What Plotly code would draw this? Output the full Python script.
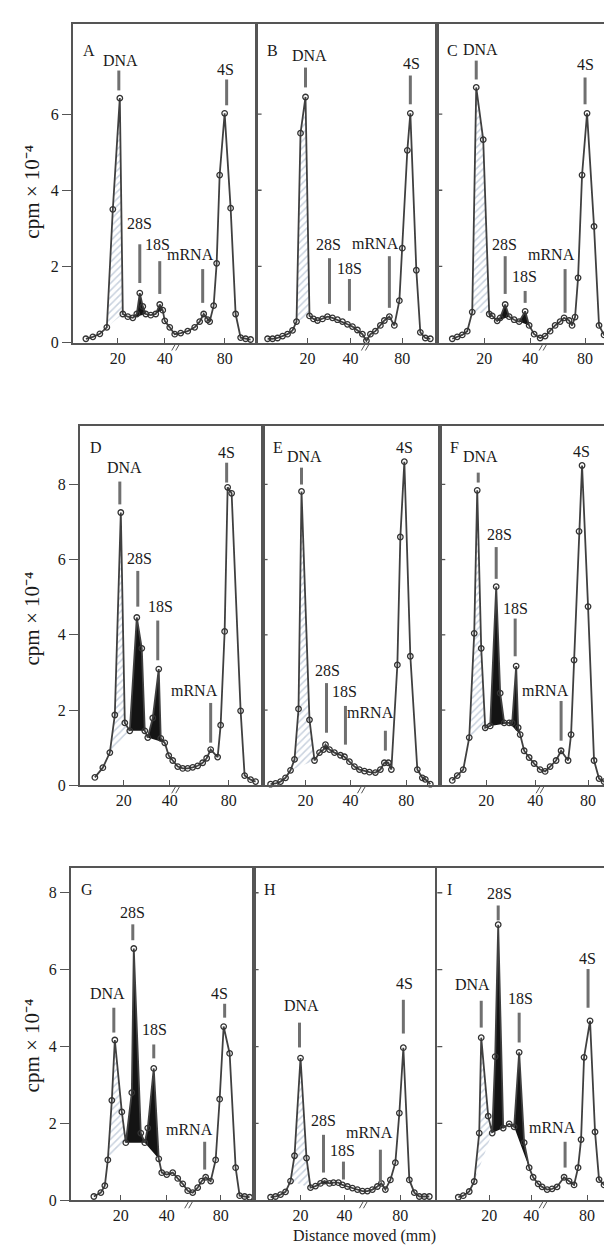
import plotly.graph_objects as go

W, H = 612, 1247
SERIF = "Liberation Serif"
LINE_COLOR = "#404040"
FRAME_COLOR = "#555555"
HATCH_COLOR = "#93a5be"
PEAK_BLACK = "#141414"

# positions along the gel (px from panel's left edge) and cpm x 10^-4
A_X = [13, 20, 27, 34, 40, 47, 50, 55, 60, 64, 67, 70, 73, 78, 83, 87, 90, 92, 97, 102, 108, 115,
       122, 127, 131, 135, 137, 141, 144, 147, 152, 158, 163, 168, 173, 178]
A_Y = [0.1, 0.15, 0.23, 0.4, 3.5, 6.42, 0.75, 0.68, 0.65, 0.75, 1.3, 0.95, 0.75, 0.72, 0.75, 1.0, 0.85,
       0.57, 0.4, 0.22, 0.25, 0.3, 0.4, 0.55, 0.75, 0.6, 0.55, 0.97, 2.08, 4.4, 6.02, 3.53, 0.75, 0.13,
       0.1, 0.08]

B_X = [11, 16, 21, 26, 31, 36, 40, 44, 49, 53, 57, 61, 66, 71, 76, 81, 86, 91, 96, 101, 106, 110,
       114, 119, 124, 128, 133, 138, 143, 146, 151, 154, 160, 164, 169, 174]
B_Y = [0.1, 0.1, 0.12, 0.17, 0.22, 0.32, 0.55, 5.5, 6.45, 0.7, 0.62, 0.58, 0.62, 0.68, 0.65, 0.6, 0.55,
       0.48, 0.42, 0.33, 0.22, 0.05, 0.22, 0.3, 0.45, 0.58, 0.68, 0.45, 1.1, 2.48, 5.05, 6.02, 1.9, 0.27,
       0.12, 0.1]

C_X = [15, 20, 25, 30, 35, 39, 46, 52, 55, 60, 63, 68, 72, 77, 82, 88, 92, 97, 103, 108, 113, 118,
       123, 127, 132, 135, 138, 141, 145, 150, 157, 162, 167, 172, 177]
C_Y = [0.1, 0.15, 0.2, 0.3, 0.8, 6.7, 5.33, 0.75, 0.7, 0.57, 0.65, 1.0, 0.68, 0.6, 0.55, 0.82, 0.45,
       0.22, 0.12, 0.17, 0.3, 0.45, 0.55, 0.65, 0.58, 0.45, 0.67, 1.7, 4.4, 6.02, 3.05, 0.45, 0.2, 0.1,
       0.08]

D_X = [15, 23, 30, 35, 41, 45, 50, 57, 62, 65, 68, 73, 79, 81, 85, 89, 93, 98, 103, 108, 113, 118,
       123, 127, 131, 138, 141, 145, 148, 152, 161, 165, 171, 176]
D_Y = [0.21, 0.47, 0.87, 1.87, 7.25, 1.66, 1.45, 4.46, 3.64, 1.45, 1.27, 1.79, 3.09, 1.25, 1.13, 0.79,
       0.66, 0.5, 0.45, 0.45, 0.48, 0.52, 0.6, 0.72, 0.95, 0.75, 1.6, 4.09, 7.92, 7.76, 1.98, 0.26, 0.15,
       0.1]

E_X = [8, 13, 18, 23, 28, 32, 36, 39, 47, 52, 57, 61, 63, 67, 72, 78, 82, 87, 92, 97, 102, 107, 113,
       118, 122, 126, 129, 135, 138, 142, 148, 155, 160, 163, 168]
E_Y = [0.03, 0.05, 0.1, 0.2, 0.4, 0.69, 2.03, 7.81, 1.74, 0.66, 0.87, 0.95, 1.08, 0.95, 0.87, 0.8, 0.76,
       0.63, 0.5, 0.42, 0.38, 0.35, 0.34, 0.42, 0.6, 0.6, 0.42, 3.2, 6.6, 8.6, 3.43, 0.42, 0.2, 0.16,
       0.03]

F_X = [12, 17, 23, 29, 34, 37, 41, 45, 50, 56, 60, 64, 69, 72, 76, 78, 80, 84, 89, 94, 100, 105, 110,
       116, 121, 128, 131, 134, 139, 142, 148, 154, 159, 164, 169]
F_Y = [0.13, 0.26, 0.42, 1.27, 4.04, 7.84, 3.64, 1.53, 1.58, 5.28, 2.45, 1.66, 1.66, 1.66, 3.17, 1.53,
       1.35, 0.92, 0.74, 0.58, 0.42, 0.37, 0.5, 0.66, 0.92, 0.66, 1.35, 3.33, 6.75, 8.5, 4.75, 0.66,
       0.18, 0.1, 0.05]

G_X = [23, 30, 34, 37, 41, 44, 51, 55, 61, 63, 70, 74, 77, 83, 88, 91, 96, 102, 107, 112, 117, 122,
       127, 131, 135, 140, 145, 149, 153, 159, 165, 169, 174, 179]
G_Y = [0.1, 0.2, 0.38, 1.05, 2.6, 4.17, 2.3, 1.5, 2.8, 6.55, 1.75, 1.5, 1.88, 3.43, 1.08, 0.72, 0.67,
       0.72, 0.57, 0.43, 0.25, 0.2, 0.33, 0.5, 0.6, 0.5, 1.05, 2.63, 4.52, 3.82, 0.85, 0.12, 0.1, 0.08]

H_X = [17, 22, 27, 32, 37, 41, 47, 53, 57, 62, 67, 71, 76, 80, 85, 89, 94, 99, 104, 109, 114, 119,
       124, 128, 132, 137, 142, 146, 150, 156, 161, 166, 171, 176]
H_Y = [0.08, 0.1, 0.15, 0.22, 0.5, 1.16, 3.7, 1.1, 0.33, 0.37, 0.44, 0.5, 0.44, 0.46, 0.46, 0.4, 0.36,
       0.32, 0.28, 0.24, 0.24, 0.28, 0.36, 0.44, 0.28, 0.53, 0.98, 2.27, 3.97, 0.53, 0.2, 0.1, 0.1, 0.1]

I_X = [21, 26, 32, 37, 42, 44, 51, 55, 58, 61, 66, 72, 77, 82, 87, 92, 96, 101, 105, 110, 115, 120,
       127, 132, 137, 141, 144, 147, 153, 158, 162, 167, 172, 177]
I_Y = [0.08, 0.12, 0.23, 0.49, 1.75, 4.23, 2.19, 1.75, 3.74, 7.17, 1.88, 1.99, 1.91, 3.85, 1.5, 0.85,
       0.6, 0.43, 0.35, 0.28, 0.3, 0.35, 0.6, 0.5, 0.4, 0.85, 1.58, 3.72, 4.67, 1.78, 0.54, 0.4, 0.3, 0.1]

X_TICK_TEXT = ["20", "40", "80"]
Y_LABEL = "cpm × 10⁻⁴"
X_LABEL = "Distance moved (mm)"

# rows: top px, bottom px, y max, y ticks
ROWS = [
    (16, 337, 8.37, [0, 2, 4, 6]),
    (421, 783, 9.55, [0, 2, 4, 6, 8]),
    (866, 1201, 8.65, [0, 2, 4, 6, 8]),
]

# name, x, y, row, left px, right px, tick positions, hatch span, black spans, break px
PANELS = [
    ("A", A_X, A_Y, 0, 65, 248, [45, 92, 152], (3, 6), [(8, 12), (13, 16)], 167),
    ("B", B_X, B_Y, 0, 249, 430, [51, 94, 146], (6, 9), [], 357),
    ("C", C_X, C_Y, 0, 430, 611, [47, 93, 148], (4, 7), [(9, 12), (14, 16)], 535),
    ("D", D_X, D_Y, 1, 72, 255, [44, 90, 149], (2, 6), [(6, 9), (10, 14)], 167),
    ("E", E_X, E_Y, 1, 255, 433, [43, 88, 144], (4, 9), [(11, 13)], 353),
    ("F", F_X, F_Y, 1, 433, 611, [46, 95, 148], (3, 7), [(8, 12), (12, 16)], 532),
    ("G", G_X, G_Y, 2, 63, 246, [50, 96, 150], (3, 7), [(7, 11), (11, 14)], 180),
    ("H", H_X, H_Y, 2, 246, 428, [47, 91, 147], (4, 8), [(10, 12)], 355),
    ("I", I_X, I_Y, 2, 430, 611, [52, 94, 150], (3, 7), [(7, 10), (12, 15)], 535),
]

# peak labels: text, text centre (px), bar x, bar top, bar bottom (px)
LABELS = {
    "A": [("DNA", 113, 53, 111, 63, 83), ("4S", 218, 62, 219, 72, 98), ("28S", 132, 217, 132, 238, 277),
          ("18S", 150, 238, 152, 255, 288), ("mRNA", 183, 248, 195, 263, 297)],
    "B": [("DNA", 302, 48, 298, 60, 80), ("4S", 404, 56, 403, 68, 97), ("28S", 321, 238, 322, 252, 298),
          ("18S", 342, 262, 342, 273, 305), ("mRNA", 368, 237, 382, 250, 302)],
    "C": [("DNA", 473, 42, 469, 53, 72), ("4S", 578, 57, 578, 70, 97), ("28S", 497, 238, 498, 250, 288),
          ("18S", 517, 270, 518, 285, 297), ("mRNA", 544, 248, 558, 263, 307)],
    "D": [("DNA", 117, 463, 112, 477, 500), ("4S", 219, 448, 219, 458, 478), ("28S", 132, 555, 130, 567, 603),
          ("18S", 153, 603, 150, 617, 657), ("mRNA", 187, 687, 203, 700, 740)],
    "E": [("DNA", 297, 452, 294, 463, 480), ("4S", 397, 443, None, 0, 0), ("28S", 320, 667, 319, 680, 730),
          ("18S", 337, 688, 338, 703, 742), ("mRNA", 363, 710, 378, 728, 748)],
    "F": [("DNA", 473, 452, 471, 468, 478), ("4S", 574, 447, None, 0, 0), ("28S", 492, 530, 489, 543, 575),
          ("18S", 508, 605, 508, 615, 653), ("mRNA", 538, 687, 554, 698, 738)],
    "G": [("DNA", 100, 993, 106, 1007, 1032), ("28S", 125, 911, 125, 923, 939), ("18S", 147, 1029, 146, 1044, 1058),
          ("mRNA", 182, 1130, 197, 1142, 1170), ("4S", 212, 993, 217, 1003, 1017)],
    "H": [("DNA", 294, 1005, 292, 1022, 1047), ("4S", 397, 983, 396, 999, 1033), ("28S", 316, 1121, 316, 1135, 1173),
          ("18S", 335, 1151, 336, 1162, 1180), ("mRNA", 362, 1133, 373, 1150, 1183)],
    "I": [("DNA", 465, 984, 474, 1000, 1027), ("28S", 492, 892, 491, 904, 919), ("18S", 513, 998, 512, 1012, 1042),
          ("4S", 580, 957, 581, 968, 1007), ("mRNA", 545, 1128, 558, 1142, 1168)],
}


def fx(px):
    return px / W


def fy(py):
    return 1 - py / H


fig = go.Figure()
annotations = []
shapes = []
layout_axes = {}

for i, (name, xs, ys, row, left, right, ticks, hatch, blacks, brk) in enumerate(PANELS):
    n = "" if i == 0 else str(i + 1)
    top, bottom, ymax, yticks = ROWS[row]
    first_col = left < 100

    # hatched DNA region (closed back along a straight baseline)
    h0, h1 = hatch
    fig.add_trace(go.Scatter(
        x=xs[h0:h1 + 1], y=ys[h0:h1 + 1], xaxis="x" + n, yaxis="y" + n,
        mode="none", fill="toself", fillcolor="rgba(0,0,0,0)",
        fillpattern=dict(shape="/", fgcolor=HATCH_COLOR, bgcolor="rgba(0,0,0,0)",
                         size=5, solidity=0.3),
        hoverinfo="skip", showlegend=False,
    ))
    # rRNA peaks in black
    for b0, b1 in blacks:
        fig.add_trace(go.Scatter(
            x=xs[b0:b1 + 1], y=ys[b0:b1 + 1], xaxis="x" + n, yaxis="y" + n,
            mode="none", fill="toself", fillcolor=PEAK_BLACK,
            hoverinfo="skip", showlegend=False,
        ))
    fig.add_trace(go.Scatter(
        x=xs, y=ys, xaxis="x" + n, yaxis="y" + n,
        mode="lines+markers", cliponaxis=False,
        line=dict(color=LINE_COLOR, width=1.8),
        marker=dict(symbol="circle-open", size=5.5, color="#333333", line=dict(width=1.3)),
        showlegend=False,
    ))

    layout_axes["xaxis" + n] = dict(
        domain=[fx(left), fx(right)], range=[0, right - left],
        anchor="y" + n, showgrid=False, zeroline=False,
        showline=True, mirror=True, linecolor=FRAME_COLOR, linewidth=1.7,
        tickvals=ticks, ticktext=X_TICK_TEXT, ticks="inside", ticklen=5,
        tickcolor=FRAME_COLOR, tickwidth=1.3,
        tickfont=dict(family=SERIF, size=16, color="#1a1a1a"),
    )
    yaxis = dict(
        domain=[fy(bottom), fy(top)], range=[0, ymax],
        anchor="x" + n, showgrid=False, zeroline=False,
        showline=True, mirror=True, linecolor=FRAME_COLOR, linewidth=1.7,
    )
    if first_col:
        yaxis.update(
            tickvals=yticks, ticks="outside", ticklen=9,
            tickcolor=FRAME_COLOR, tickwidth=1.3,
            tickfont=dict(family=SERIF, size=16, color="#1a1a1a"),
        )
    else:
        yaxis.update(showticklabels=False, ticks="")
        # short inward ticks on the shared left frame
        for v in yticks[1:]:
            shapes.append(dict(
                type="line", xref="paper", yref="y" + n,
                x0=fx(left), x1=fx(left + 5), y0=v, y1=v,
                line=dict(color=FRAME_COLOR, width=1.3),
            ))
    layout_axes["yaxis" + n] = yaxis

    # panel letter
    letter_y = top + 27 if row == 0 else top + 22
    annotations.append(dict(
        text=name, x=fx(left + 8), y=fy(letter_y), xref="paper", yref="paper",
        xanchor="left", yanchor="middle", showarrow=False,
        font=dict(family=SERIF, size=16, color="#1a1a1a"),
    ))
    # axis break mark: two short slanted strokes below the axis
    for dx in (-3, 1):
        shapes.append(dict(
            type="line", xref="paper", yref="paper",
            x0=fx(brk + dx), x1=fx(brk + dx + 4), y0=fy(bottom + 8), y1=fy(bottom + 1),
            line=dict(color="#555555", width=1),
        ))

    for text, tx, ty, bx, b_top, b_bot in LABELS[name]:
        annotations.append(dict(
            text=text, x=fx(tx), y=fy(ty), xref="paper", yref="paper",
            xanchor="center", yanchor="middle", showarrow=False,
            font=dict(family=SERIF, size=16, color="#1a1a1a"),
        ))
        if bx is not None:
            shapes.append(dict(
                type="line", xref="paper", yref="paper",
                x0=fx(bx), x1=fx(bx), y0=fy(b_top), y1=fy(b_bot),
                line=dict(color="#707070", width=3),
            ))

for cy in (185, 615, 1045):
    annotations.append(dict(
        text=Y_LABEL, x=fx(24), y=fy(cy), xref="paper", yref="paper",
        xanchor="center", yanchor="middle", showarrow=False, textangle=-90,
        font=dict(family=SERIF, size=21, color="#1a1a1a"),
    ))

annotations.append(dict(
    text=X_LABEL, x=fx(357), y=fy(1237), xref="paper", yref="paper",
    xanchor="center", yanchor="middle", showarrow=False,
    font=dict(family=SERIF, size=16, color="#1a1a1a"),
))

fig.update_layout(
    width=W, height=H,
    margin=dict(l=0, r=0, t=0, b=0),
    paper_bgcolor="white", plot_bgcolor="white",
    annotations=annotations, shapes=shapes,
    **layout_axes,
)

fig.write_html("out.html")
